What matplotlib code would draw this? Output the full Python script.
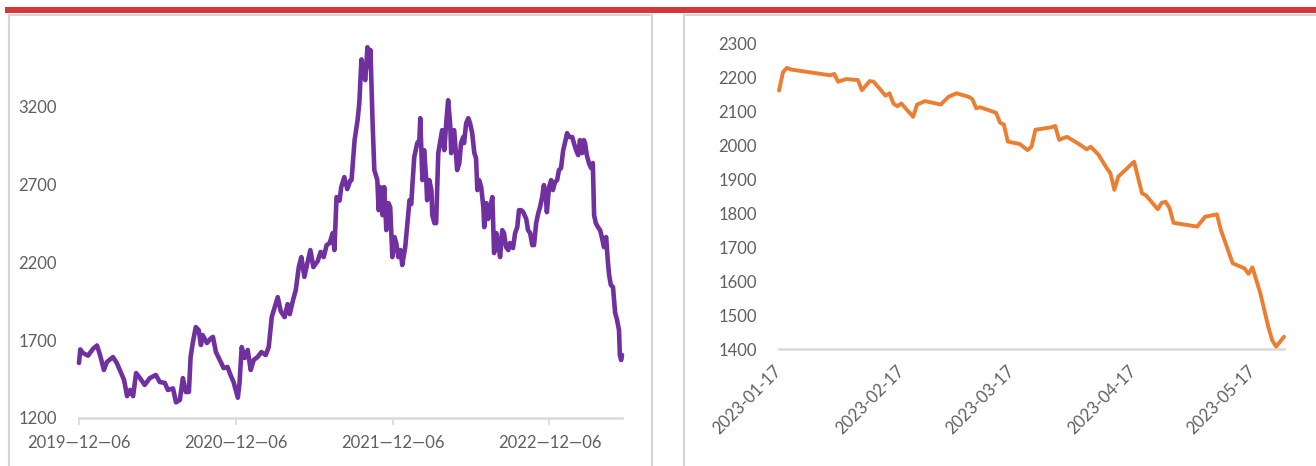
import matplotlib
matplotlib.use("Agg")
import matplotlib.pyplot as plt
import pandas as pd
from matplotlib.patches import Rectangle

# ---------------- data ----------------
left_dates = [
    "2019-12-06", "2019-12-09", "2019-12-15", "2019-12-27", "2020-01-08", "2020-01-17",
    "2020-01-24", "2020-02-02", "2020-02-09", "2020-02-23", "2020-03-03", "2020-03-10",
    "2020-03-20", "2020-03-27", "2020-04-03", "2020-04-10", "2020-04-17", "2020-04-26",
    "2020-05-07", "2020-05-19", "2020-06-02", "2020-06-11", "2020-06-23", "2020-06-30",
    "2020-07-12", "2020-07-19", "2020-07-28", "2020-08-04", "2020-08-11", "2020-08-18",
    "2020-08-22", "2020-08-27", "2020-09-03", "2020-09-10", "2020-09-15", "2020-09-19",
    "2020-09-29", "2020-10-08", "2020-10-13", "2020-10-20", "2020-10-29", "2020-11-07",
    "2020-11-16", "2020-11-23", "2020-11-30", "2020-12-10", "2020-12-14", "2020-12-19",
    "2020-12-26", "2021-01-02", "2021-01-09", "2021-01-16", "2021-01-25", "2021-02-03",
    "2021-02-13", "2021-02-20", "2021-02-27", "2021-03-06", "2021-03-13", "2021-03-20",
    "2021-03-29", "2021-04-05", "2021-04-10", "2021-04-17", "2021-04-24", "2021-05-01",
    "2021-05-07", "2021-05-14", "2021-05-21", "2021-05-28", "2021-06-04", "2021-06-14",
    "2021-06-21", "2021-06-28", "2021-07-05", "2021-07-12", "2021-07-19", "2021-07-23",
    "2021-07-28", "2021-08-04", "2021-08-08", "2021-08-15", "2021-08-22", "2021-08-29",
    "2021-09-01", "2021-09-08", "2021-09-15", "2021-09-19", "2021-09-24", "2021-09-29",
    "2021-10-03", "2021-10-08", "2021-10-13", "2021-10-15", "2021-10-20", "2021-10-24",
    "2021-10-31", "2021-11-03", "2021-11-07", "2021-11-12", "2021-11-16", "2021-11-21",
    "2021-11-26", "2021-11-30", "2021-12-05", "2021-12-10", "2021-12-14", "2021-12-19",
    "2021-12-24", "2021-12-28", "2022-01-04", "2022-01-09", "2022-01-14", "2022-01-18",
    "2022-01-21", "2022-01-25", "2022-02-01", "2022-02-06", "2022-02-08", "2022-02-10",
    "2022-02-13", "2022-02-17", "2022-02-22", "2022-02-24", "2022-03-01", "2022-03-06",
    "2022-03-08", "2022-03-13", "2022-03-17", "2022-03-22", "2022-03-27", "2022-03-31",
    "2022-04-05", "2022-04-10", "2022-04-14", "2022-04-19", "2022-04-21", "2022-04-28",
    "2022-05-01", "2022-05-05", "2022-05-10", "2022-05-14", "2022-05-19", "2022-05-21",
    "2022-05-26", "2022-05-31", "2022-06-04", "2022-06-09", "2022-06-14", "2022-06-18",
    "2022-06-21", "2022-06-25", "2022-06-30", "2022-07-05", "2022-07-07", "2022-07-12",
    "2022-07-16", "2022-07-21", "2022-07-26", "2022-07-30", "2022-08-04", "2022-08-09",
    "2022-08-13", "2022-08-18", "2022-08-22", "2022-08-27", "2022-09-01", "2022-09-05",
    "2022-09-12", "2022-09-17", "2022-09-22", "2022-09-26", "2022-10-01", "2022-10-06",
    "2022-10-13", "2022-10-17", "2022-10-22", "2022-10-27", "2022-10-31", "2022-11-05",
    "2022-11-10", "2022-11-14", "2022-11-19", "2022-11-23", "2022-11-28", "2022-11-30",
    "2022-12-05", "2022-12-10", "2022-12-14", "2022-12-19", "2022-12-24", "2022-12-28",
    "2023-01-02", "2023-01-07", "2023-01-11", "2023-01-16", "2023-01-21", "2023-01-28",
    "2023-02-01", "2023-02-06", "2023-02-11", "2023-02-15", "2023-02-20", "2023-02-24",
    "2023-02-27", "2023-03-03", "2023-03-08", "2023-03-13", "2023-03-17", "2023-03-20",
    "2023-03-24", "2023-03-29", "2023-04-03", "2023-04-07", "2023-04-12", "2023-04-17",
    "2023-04-21", "2023-04-24", "2023-04-28", "2023-05-03", "2023-05-08", "2023-05-12",
    "2023-05-17", "2023-05-19", "2023-05-22", "2023-05-24",
]
left_values = [
    1553, 1640, 1617, 1600, 1645, 1665,
    1604, 1508, 1559, 1591, 1553, 1508,
    1444, 1340, 1380, 1340, 1488, 1456,
    1412, 1456, 1476, 1431, 1425, 1380,
    1390, 1300, 1316, 1456, 1367, 1367,
    1591, 1681, 1783, 1763, 1668, 1732,
    1681, 1710, 1720, 1623, 1572, 1520,
    1527, 1476, 1431, 1330, 1425, 1655,
    1585, 1636, 1508, 1572, 1591, 1623,
    1604, 1655, 1847, 1911, 1975, 1885,
    1847, 1930, 1866, 1950, 2020, 2168,
    2232, 2105, 2193, 2277, 2168, 2206,
    2265, 2232, 2309, 2322, 2386, 2277,
    2617, 2594, 2681, 2745, 2668, 2723,
    2726, 2982, 3110, 3219, 3500, 3400,
    3367, 3578, 3450, 3560, 3091, 2790,
    2726, 2533, 2681, 2501, 2681, 2405,
    2578, 2552, 2232, 2360, 2322, 2232,
    2277, 2181, 2296, 2450, 2597, 2572,
    2706, 2873, 2963, 2982, 3123, 2963,
    2726, 2918, 2726, 2597, 2726, 2662,
    2501, 2450, 2450, 2899, 2982, 3046,
    2918, 3110, 3238, 3072, 2899, 3046,
    2937, 2790, 2835, 2963, 3002, 2963,
    3091, 3123, 3091, 3027, 2899, 2867,
    2662, 2726, 2681, 2552, 2424, 2578,
    2476, 2552, 2617, 2258, 2386, 2322,
    2232, 2405, 2386, 2296, 2277, 2322,
    2290, 2386, 2424, 2533, 2533, 2520,
    2476, 2405, 2386, 2309, 2309, 2450,
    2514, 2552, 2617, 2694, 2597, 2520,
    2681, 2726, 2662, 2713, 2726, 2790,
    2803, 2918, 2963, 3027, 3002, 3002,
    2963, 2918, 2886, 2982, 2899, 2982,
    2963, 2886, 2835, 2803, 2835, 2501,
    2450, 2424, 2405, 2360, 2296, 2360,
    2206, 2117, 2053, 2040, 1875, 1834,
    1764, 1604, 1572, 1604,
]
left_ticks = ["2019-12-06", "2020-12-06", "2021-12-06", "2022-12-06"]
left_yticks = [1200, 1700, 2200, 2700, 3200]

right_dates = [
    "2023-01-17", "2023-01-18", "2023-01-19", "2023-01-20", "2023-01-30", "2023-01-31",
    "2023-02-01", "2023-02-03", "2023-02-06", "2023-02-07", "2023-02-09", "2023-02-10",
    "2023-02-13", "2023-02-14", "2023-02-15", "2023-02-16", "2023-02-17", "2023-02-20",
    "2023-02-21", "2023-02-23", "2023-02-27", "2023-03-01", "2023-03-03", "2023-03-06",
    "2023-03-07", "2023-03-08", "2023-03-09", "2023-03-13", "2023-03-14", "2023-03-15",
    "2023-03-16", "2023-03-19", "2023-03-21", "2023-03-22", "2023-03-23", "2023-03-27",
    "2023-03-28", "2023-03-29", "2023-03-30", "2023-03-31", "2023-04-03", "2023-04-05",
    "2023-04-06", "2023-04-08", "2023-04-10", "2023-04-11", "2023-04-12", "2023-04-13",
    "2023-04-17", "2023-04-19", "2023-04-20", "2023-04-23", "2023-04-24", "2023-04-25",
    "2023-04-26", "2023-04-27", "2023-05-03", "2023-05-05", "2023-05-08", "2023-05-09",
    "2023-05-12", "2023-05-15", "2023-05-16", "2023-05-17", "2023-05-19", "2023-05-21",
    "2023-05-22", "2023-05-23", "2023-05-25",
]
right_values = [
    2160, 2214, 2227, 2222, 2205, 2209,
    2186, 2194, 2191, 2161, 2188, 2186,
    2145, 2152, 2122, 2114, 2122, 2083,
    2119, 2129, 2119, 2142, 2152, 2142,
    2135, 2108, 2111, 2095, 2066, 2060,
    2010, 2003, 1985, 1995, 2045, 2052,
    2056, 2015, 2020, 2024, 2003, 1987,
    1995, 1971, 1933, 1917, 1868, 1907,
    1951, 1858, 1852, 1811, 1830, 1833,
    1814, 1771, 1760, 1789, 1796, 1750,
    1652, 1637, 1621, 1640, 1564, 1466,
    1426, 1407, 1436,
]
right_ticks = ["2023-01-17", "2023-02-17", "2023-03-17", "2023-04-17", "2023-05-17"]
right_yticks = [1400, 1500, 1600, 1700, 1800, 1900, 2000, 2100, 2200, 2300]

# ---------------- styling ----------------
plt.rcParams["font.family"] = ["Lato", "DejaVu Sans"]
LABEL_COLOR = "#5f5f5f"
AXIS_COLOR = "#d9d9d9"
FS = 12

W, H = 1316, 466
fig = plt.figure(figsize=(W / 100, H / 100), dpi=100)
fig.patch.set_facecolor("white")


def fx(px):
    return px / W


def fy(py):
    return 1 - py / H


# red header band
fig.patches.append(Rectangle((fx(5), fy(13)), 1 - fx(5), 6 / H,
                             transform=fig.transFigure, facecolor="#d7343b",
                             edgecolor="none", zorder=0))
# panel frames
for x0, x1 in [(8.5, 652), (683.5, 1330)]:
    fig.patches.append(Rectangle((fx(x0), fy(480)), fx(x1) - fx(x0), (480 - 15) / H,
                                 transform=fig.transFigure, facecolor="none",
                                 edgecolor="#d6d6d6", linewidth=1.6, zorder=0))

ld = pd.to_datetime(left_dates)
rd = pd.to_datetime(right_dates)


def dash_label(s):
    return s.replace("-", "\u2014")


# ---- left panel ----
ax1 = fig.add_axes([fx(79), fy(418), fx(622) - fx(79), (418 - 36) / H])
ax1.plot(ld, left_values, color="#7030a0", linewidth=3.3, solid_joinstyle="round",
         solid_capstyle="round", clip_on=False)
ax1.set_xlim(ld[0], ld[-1])
ax1.set_ylim(1200, 3650)
ax1.set_yticks(left_yticks)
ax1.set_yticklabels([str(v) for v in left_yticks])
ax1.set_xticks(pd.to_datetime(left_ticks))
ax1.set_xticklabels([dash_label(t) for t in left_ticks])
ax1.tick_params(axis="y", length=0, pad=16, labelsize=FS, labelcolor=LABEL_COLOR)
ax1.tick_params(axis="x", length=5, width=1.2, color=AXIS_COLOR, pad=7,
                labelsize=FS, labelcolor=LABEL_COLOR)

# ---- right panel ----
ax2 = fig.add_axes([fx(779), fy(349), fx(1284) - fx(779), (349 - 43) / H])
ax2.plot(rd, right_values, color="#ed7d31", linewidth=2.8, solid_joinstyle="round",
         solid_capstyle="round", clip_on=False)
ax2.set_xlim(rd[0], rd[-1])
ax2.set_ylim(1400, 2300)
ax2.set_yticks(right_yticks)
ax2.set_yticklabels([str(v) for v in right_yticks])
ax2.set_xticks(pd.to_datetime(right_ticks))
ax2.set_xticklabels(right_ticks, rotation=45, ha="right", va="center",
                    rotation_mode="anchor")
ax2.tick_params(axis="y", length=0, pad=16, labelsize=FS, labelcolor=LABEL_COLOR)
ax2.tick_params(axis="x", length=0, pad=14, labelsize=FS, labelcolor=LABEL_COLOR)

for ax in (ax1, ax2):
    ax.set_facecolor("none")
    for side in ("top", "right", "left"):
        ax.spines[side].set_visible(False)
    ax.spines["bottom"].set_color(AXIS_COLOR)
    ax.spines["bottom"].set_linewidth(1.8)
    ax.spines["bottom"].set_zorder(1)

fig.savefig("out.png", dpi=100, facecolor="white")
